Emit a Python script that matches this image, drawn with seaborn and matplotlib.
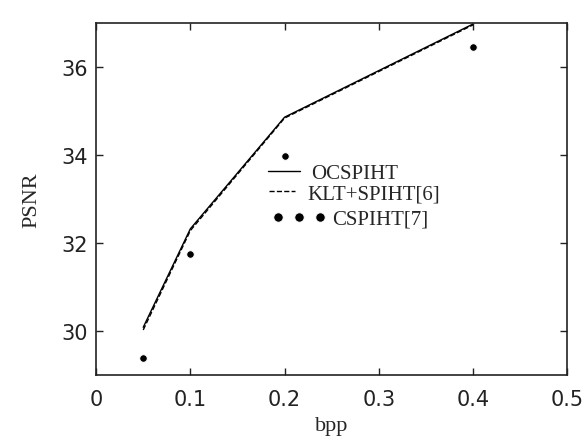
import matplotlib
matplotlib.use('Agg')
import matplotlib.pyplot as plt
import seaborn as sns

# bit rate (bpp) and PSNR
bpp = [0.05, 0.1, 0.2, 0.3, 0.4]
ocspiht = [30.08, 32.32, 34.86, 35.92, 36.98]
klt_spiht = [30.02, 32.28, 34.84, 35.90, 36.96]
bpp_cs = [0.05, 0.1, 0.2, 0.4]
cspiht = [29.39, 31.75, 33.98, 36.45]

sns.set_style("ticks")
plt.rcParams['font.family'] = ['DejaVu Sans']

fig = plt.figure(figsize=(5.86, 4.39), dpi=100)
ax = fig.add_axes([0.164, 0.144, 0.804, 0.801])

sns.lineplot(x=bpp, y=ocspiht, ax=ax, color='black', linewidth=1.0, label='OCSPIHT')
sns.lineplot(x=bpp, y=klt_spiht, ax=ax, color='black', linewidth=1.0,
             linestyle='--', dashes=False, label='KLT+SPIHT[6]')
sns.lineplot(x=bpp_cs, y=cspiht, ax=ax, color='black', marker='o', markersize=5.5,
             linestyle='none', label='CSPIHT[7]')

ax.set_xlim(0, 0.5)
ax.set_ylim(29, 37)
ax.set_xticks([0, 0.1, 0.2, 0.3, 0.4, 0.5])
ax.set_xticklabels(['0', '0.1', '0.2', '0.3', '0.4', '0.5'])
ax.set_yticks([30, 32, 34, 36])
ax.tick_params(direction='in', length=5, width=1, top=True, right=True,
               labelsize=15, colors='#222222')
ax.tick_params(axis='x', pad=10)
ax.tick_params(axis='y', pad=6)
for s in ax.spines.values():
    s.set_linewidth(1.2)
    s.set_color('#222222')

ax.set_xlabel('bpp', family='Liberation Serif', fontsize=16, labelpad=5)
ax.set_ylabel('PSNR', family='Liberation Serif', fontsize=16, labelpad=14)

# legend entries are placed one by one, like the pasted-in legend of the original
handles, labels = ax.get_legend_handles_labels()
leg_font = {'family': 'Liberation Serif', 'size': 15}
leg_opts = [
    dict(anchor=(0.365, 0.572), hl=1.54, pad=0.53, n=1),
    dict(anchor=(0.367, 0.515), hl=1.25, pad=0.58, n=1),
    dict(anchor=(0.373, 0.443), hl=2.62, pad=0.29, n=3),
]
legs = []
for h, l, o in zip(handles, labels, leg_opts):
    lg = ax.legend([h], [l], loc='center left', bbox_to_anchor=o['anchor'],
                   frameon=False, numpoints=o['n'], markerscale=1.25,
                   handlelength=o['hl'], handletextpad=o['pad'],
                   borderpad=0, borderaxespad=0, prop=leg_font)
    legs.append(lg)
for lg in legs[:-1]:
    ax.add_artist(lg)

fig.savefig('out.png', dpi=100)
